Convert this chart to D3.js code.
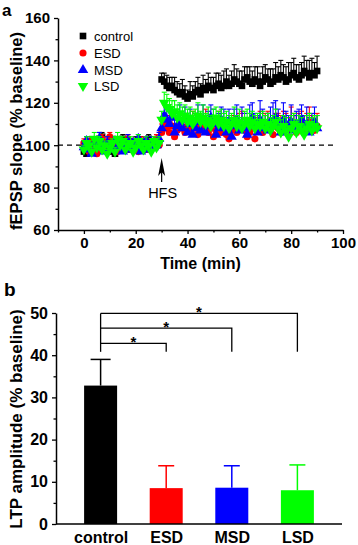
<!DOCTYPE html>
<html><head><meta charset="utf-8">
<script src="https://cdn.jsdelivr.net/npm/d3@7"></script>
<style>
html,body{margin:0;padding:0;background:#fff;}
svg{display:block;font-family:"Liberation Sans",Arial,sans-serif;}
</style></head>
<body><svg id="c" width="358" height="545"></svg>
<script>
// ---------- Panel a data ----------
const minutes = [0,1,2,3,4,5,6,7,8,9,10,11,12,13,14,15,16,17,18,19,20,21,22,23,24,25,26,27,28,29,
30,31,32,33,34,35,36,37,38,39,40,41,42,43,44,45,46,47,48,49,50,51,52,53,54,55,56,57,58,59,
60,61,62,63,64,65,66,67,68,69,70,71,72,73,74,75,76,77,78,79,80,81,82,83,84,85,86,87,88,89,90];
const seriesNames = ["control","ESD","MSD","LSD"];
const seriesColors = ["#000000","#ff0000","#0000ff","#00ff00"];
const controlSlope = [97,96,99,102,101,98,103,104,100,99,101,97,96,102,100,103,99,101,98,100,102,99,101,100,98,103,101,100,102,101,
131,130,128,127,128,126,125,124,125,123,122,124,123,125,126,124,127,126,128,127,126,128,129,127,128,130,128,129,131,130,
129,128,131,132,130,129,131,130,128,130,132,131,129,130,132,131,133,132,130,131,133,134,132,131,133,135,134,132,134,133,135];
const esdSlope = [101,99,97,102,100,96,98,103,101,99,104,100,98,97,102,99,101,103,100,98,101,97,99,102,100,98,101,99,103,100,
106,110,108,106,109,104,107,110,108,106,109,107,111,108,105,109,107,110,106,108,104,107,109,106,108,105,103,107,109,106,
108,110,107,104,106,108,103,107,109,106,108,110,107,105,109,108,106,110,108,107,111,109,106,108,110,107,109,111,108,107,109];
const msdSlope = [99,102,98,96,101,100,103,99,97,101,100,98,102,99,101,97,100,102,98,101,99,103,97,100,102,98,101,99,100,103,
108,114,112,110,113,106,109,111,108,112,106,110,105,108,111,107,112,106,109,113,110,105,108,112,109,106,111,104,109,112,
107,110,108,105,111,113,109,106,112,110,108,107,111,109,113,110,106,112,109,108,111,107,110,109,112,108,110,106,109,111,108];
const lsdSlope = [98,101,100,97,103,99,102,98,100,96,99,101,97,103,100,102,98,100,101,97,99,102,100,98,101,100,97,102,99,101,
112,120,118,117,115,116,113,115,112,114,111,113,110,112,114,111,113,110,112,109,111,113,110,112,109,111,108,110,112,109,
111,108,110,112,109,111,108,110,109,111,108,110,107,109,111,108,106,109,107,104,108,110,106,109,107,105,108,110,107,109,108];
const controlSem = [2,3,2,2,3,2,3,2,2,3,2,2,3,2,3,2,2,3,2,3,2,2,3,2,3,2,2,3,2,2,
3,4,5,5,4,6,5,5,6,5,4,6,5,5,6,5,6,5,6,5,6,6,5,6,7,6,5,6,7,6,
6,7,6,5,7,6,6,7,6,7,6,5,7,6,7,6,7,6,7,8,6,7,6,7,6,7,6,8,7,6,7];
const esdSem = [2,2,3,2,2,3,2,2,3,2,2,3,2,2,2,3,2,2,3,2,2,3,2,2,3,2,2,3,2,2,
4,5,6,5,6,5,6,5,7,6,5,6,5,7,6,5,6,7,5,6,5,6,7,6,5,6,7,6,5,6,
7,6,5,6,7,6,5,6,7,6,7,6,5,7,6,7,8,6,7,6,7,6,8,7,6,7,6,7,6,7,6];
const msdSem = [3,2,2,3,2,2,3,2,2,3,2,3,2,2,3,2,2,3,2,2,3,2,2,3,2,2,3,2,2,3,
5,6,7,6,5,7,6,8,7,6,8,7,6,7,8,6,7,8,7,6,7,8,7,6,8,7,6,7,8,7,
6,8,7,6,8,7,6,8,9,7,6,8,7,11,8,7,6,8,7,6,8,7,6,8,7,6,8,7,6,7,6];
const lsdSem = [2,3,2,2,3,2,2,3,2,2,3,2,2,3,2,2,3,2,3,2,2,3,2,2,3,2,3,2,2,3,
4,5,6,5,6,5,6,5,6,5,6,5,6,5,6,5,6,5,6,5,6,5,6,5,6,5,6,5,6,5,
6,5,6,5,6,5,6,5,6,5,6,5,6,5,6,5,6,5,6,5,6,5,6,5,6,5,6,5,6,5,6];
const slopeXTicks = [0,20,40,60,80,100];
const slopeYTicks = [60,80,100,120,140,160];
const hfsMinute = 30;

// ---------- Panel b data ----------
const groups = ["control","ESD","MSD","LSD"];
const ltpMean = [32.8, 8.5, 8.6, 8.0];
const ltpSem = [6.2, 5.3, 5.2, 6.0];
const ltpYTicks = [0,10,20,30,40,50];
const compareTo = ["ESD","MSD","LSD"];
const compareLevel = [42.8, 46.4, 49.9];
const compareLabel = ["*","*","*"];
const bracketBase = 40.8;

const svg = d3.select("#c");
const FONT = '"Liberation Sans",Arial,sans-serif';

// ================= Panel a =================
const xa = d3.scaleLinear().domain([-10,100]).range([58,343]);
const ya = d3.scaleLinear().domain([60,160]).range([230,18]);

svg.append("text").attr("x",2).attr("y",16).attr("font-size",17).attr("font-weight","bold").text("a");

// dashed baseline
svg.append("line").attr("x1",xa(-10)).attr("x2",xa(97)).attr("y1",ya(100)).attr("y2",ya(100))
  .attr("stroke","#000").attr("stroke-width",1.3).attr("stroke-dasharray","5,4");

const seriesVals = [controlSlope, esdSlope, msdSlope, lsdSlope];
const seriesSem = [controlSem, esdSem, msdSem, lsdSem];
const symTypes = [d3.symbolSquare, d3.symbolCircle, d3.symbolTriangle, d3.symbolTriangle];
const symSizes = [44, 40, 48, 48];

function markerPath(i){ return d3.symbol().type(symTypes[i]).size(symSizes[i])(); }

seriesNames.forEach((name,i)=>{
  const g = svg.append("g");
  const data = minutes.map((m,k)=>({m, v:seriesVals[i][k], e:seriesSem[i][k]}));
  const eb = g.append("g").attr("stroke",seriesColors[i]).attr("stroke-width",1.1);
  eb.selectAll("line.v").data(data).join("line")
    .attr("x1",d=>xa(d.m)).attr("x2",d=>xa(d.m)).attr("y1",d=>ya(d.v)).attr("y2",d=>ya(d.v+d.e));
  eb.selectAll("line.c").data(data).join("line").attr("class","c")
    .attr("x1",d=>xa(d.m)-2.5).attr("x2",d=>xa(d.m)+2.5).attr("y1",d=>ya(d.v+d.e)).attr("y2",d=>ya(d.v+d.e));
  g.selectAll("path").data(data).join("path")
    .attr("d",markerPath(i))
    .attr("transform",d=>`translate(${xa(d.m)},${ya(d.v)})${i===3?" rotate(180)":""}`)
    .attr("fill",seriesColors[i]);
});

// axes a
const axA = svg.append("g");
const xAxisA = axA.append("g").attr("transform",`translate(0,${ya(60)})`)
  .call(d3.axisBottom(xa).tickValues(slopeXTicks).tickSize(4).tickSizeOuter(0).tickPadding(3));
const xMinorA = axA.append("g").attr("transform",`translate(0,${ya(60)})`)
  .call(d3.axisBottom(xa).tickValues(slopeXTicks.slice(0,-1).map(t=>t+10).concat([-10])).tickSize(2.5).tickSizeOuter(0).tickFormat(""));
const yAxisA = axA.append("g").attr("transform",`translate(${xa(-10)},0)`)
  .call(d3.axisLeft(ya).tickValues(slopeYTicks).tickSize(4).tickSizeOuter(0).tickPadding(4));
const yMinorA = axA.append("g").attr("transform",`translate(${xa(-10)},0)`)
  .call(d3.axisLeft(ya).tickValues(slopeYTicks.slice(0,-1).map(t=>t+10)).tickSize(2.5).tickSizeOuter(0).tickFormat(""));
xMinorA.select(".domain").remove();
yMinorA.select(".domain").remove();

svg.append("text").attr("x",xa(45)).attr("y",269).attr("text-anchor","middle")
  .attr("font-size",16).attr("font-weight","bold").text("Time (min)");
svg.append("text").attr("transform",`translate(22,131) rotate(-90)`).attr("text-anchor","middle")
  .attr("font-size",16.5).attr("font-weight","bold").text("fEPSP slope (% baseline)");

// HFS arrow
const ax0 = xa(hfsMinute);
svg.append("path").attr("d",`M${ax0},158 L${ax0+3.5},176 L${ax0},172 L${ax0-3.5},176 Z`).attr("fill","#000");
svg.append("line").attr("x1",ax0).attr("x2",ax0).attr("y1",170).attr("y2",182).attr("stroke","#000").attr("stroke-width",1.2);
svg.append("text").attr("x",ax0+1).attr("y",198).attr("text-anchor","middle").attr("font-size",14.5).text("HFS");

// legend
const legY = [36,53,70,86];
seriesNames.forEach((name,i)=>{
  svg.append("path").attr("d",markerPath(i))
    .attr("transform",`translate(83,${legY[i]})${i===3?" rotate(180)":""}`).attr("fill",seriesColors[i]);
  svg.append("text").attr("x",94).attr("y",legY[i]).attr("dy","0.35em").attr("font-size",13).text(name);
});

// ================= Panel b =================
const yb = d3.scaleLinear().domain([0,50]).range([524,313]);
const xb = d3.scalePoint().domain(groups).range([56,342]).padding(0.68);
const barW = 33;

svg.append("text").attr("x",4).attr("y",296).attr("font-size",19).attr("font-weight","bold").text("b");

groups.forEach((g,i)=>{
  const cx = xb(g);
  const top = yb(ltpMean[i]), etop = yb(ltpMean[i]+ltpSem[i]);
  svg.append("line").attr("x1",cx).attr("x2",cx).attr("y1",top).attr("y2",etop)
    .attr("stroke",seriesColors[i]).attr("stroke-width",1.5);
  svg.append("line").attr("x1",cx-(i===0?10:8)).attr("x2",cx+(i===0?10:8)).attr("y1",etop).attr("y2",etop)
    .attr("stroke",seriesColors[i]).attr("stroke-width",1.5);
  svg.append("rect").attr("x",cx-barW/2).attr("y",top).attr("width",barW).attr("height",yb(0)-top)
    .attr("fill",seriesColors[i]);
});

// brackets
const bx0 = xb("control");
svg.append("line").attr("x1",bx0).attr("x2",bx0).attr("y1",yb(d3.max(compareLevel))).attr("y2",yb(bracketBase))
  .attr("stroke","#000").attr("stroke-width",1.3);
compareTo.forEach((g,i)=>{
  const x1 = xb(g), yl = yb(compareLevel[i]);
  svg.append("path").attr("d",`M${bx0},${yl} H${x1} V${yb(bracketBase)}`)
    .attr("fill","none").attr("stroke","#000").attr("stroke-width",1.3);
  svg.append("text").attr("x",(bx0+x1)/2).attr("y",yl+4).attr("text-anchor","middle")
    .attr("font-size",15).attr("font-weight","bold").text(compareLabel[i]);
});

const axB = svg.append("g");
const yAxisB = axB.append("g").attr("transform",`translate(56,0)`)
  .call(d3.axisLeft(yb).tickValues(ltpYTicks).tickSize(4).tickSizeOuter(0).tickPadding(4));
const yMinorB = axB.append("g").attr("transform",`translate(56,0)`)
  .call(d3.axisLeft(yb).tickValues(ltpYTicks.slice(0,-1).map(t=>t+5)).tickSize(2.5).tickSizeOuter(0).tickFormat(""));
yMinorB.select(".domain").remove();
const xAxisB = axB.append("g").attr("transform",`translate(0,${yb(0)})`)
  .call(d3.axisBottom(xb).tickSize(0).tickSizeOuter(0).tickPadding(8));
xAxisB.select(".domain").attr("d",`M56,0H342`);

svg.append("text").attr("transform",`translate(22,419) rotate(-90)`).attr("text-anchor","middle")
  .attr("font-size",17).attr("font-weight","bold").text("LTP amplitude (% baseline)");

// style axes
svg.selectAll(".domain").attr("stroke","#000").attr("stroke-width",1.5);
svg.selectAll(".tick line").attr("stroke","#000").attr("stroke-width",1.3);
svg.selectAll(".tick text").attr("font-family",FONT).attr("font-size",15).attr("font-weight","bold").attr("fill","#000");
xAxisB.selectAll(".tick text").attr("font-size",16);
yAxisB.selectAll(".tick text").attr("font-size",16);
</script></body></html>
